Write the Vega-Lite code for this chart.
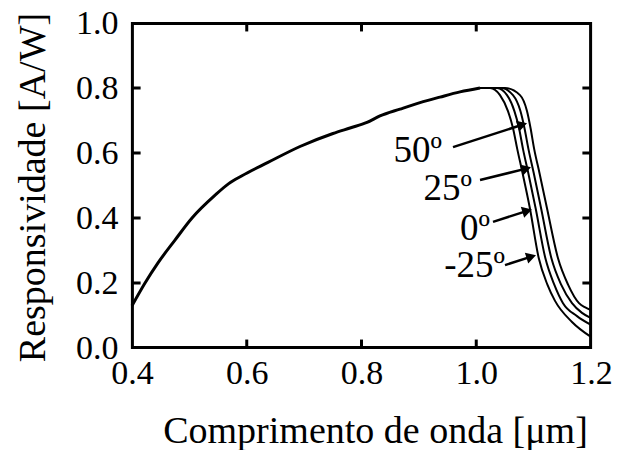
{
  "$schema": "https://vega.github.io/schema/vega-lite/v6.json",
  "width": 459,
  "height": 325,
  "autosize": "none",
  "padding": {"left": 132, "top": 23, "right": 27, "bottom": 102},
  "background": "white",
  "config": {
    "view": {"stroke": null},
    "axis": {
      "grid": false,
      "domain": false,
      "ticks": false,
      "labelFont": "Liberation Serif",
      "labelFontSize": 34,
      "labelColor": "black",
      "titleFont": "Liberation Serif",
      "titleFontSize": 38,
      "titleFontWeight": "normal",
      "titleColor": "black"
    }
  },
  "datasets": {
    "curves": [
      {"s": "main", "x": 0.400, "r": 0.130},
      {"s": "main", "x": 0.4227, "r": 0.200},
      {"s": "main", "x": 0.4453, "r": 0.262},
      {"s": "main", "x": 0.4749, "r": 0.332},
      {"s": "main", "x": 0.5046, "r": 0.400},
      {"s": "main", "x": 0.5447, "r": 0.470},
      {"s": "main", "x": 0.5680, "r": 0.505},
      {"s": "main", "x": 0.5917, "r": 0.530},
      {"s": "main", "x": 0.6370, "r": 0.571},
      {"s": "main", "x": 0.6928, "r": 0.620},
      {"s": "main", "x": 0.7503, "r": 0.660},
      {"s": "main", "x": 0.7800, "r": 0.677},
      {"s": "main", "x": 0.8096, "r": 0.694},
      {"s": "main", "x": 0.8322, "r": 0.714},
      {"s": "main", "x": 0.8671, "r": 0.735},
      {"s": "main", "x": 0.9020, "r": 0.755},
      {"s": "main", "x": 0.9368, "r": 0.772},
      {"s": "main", "x": 0.9717, "r": 0.788},
      {"s": "main", "x": 1.0066, "r": 0.800},
      {"s": "50", "x": 1.0066, "r": 0.800},
      {"s": "50", "x": 1.0501, "r": 0.800},
      {"s": "50", "x": 1.0762, "r": 0.778},
      {"s": "50", "x": 1.0884, "r": 0.729},
      {"s": "50", "x": 1.0946, "r": 0.677},
      {"s": "50", "x": 1.1010, "r": 0.612},
      {"s": "50", "x": 1.1100, "r": 0.540},
      {"s": "50", "x": 1.1233, "r": 0.430},
      {"s": "50", "x": 1.1425, "r": 0.276},
      {"s": "50", "x": 1.1600, "r": 0.195},
      {"s": "50", "x": 1.1791, "r": 0.138},
      {"s": "50", "x": 1.1900, "r": 0.125},
      {"s": "50", "x": 1.2000, "r": 0.117},
      {"s": "25", "x": 1.0066, "r": 0.800},
      {"s": "25", "x": 1.0431, "r": 0.800},
      {"s": "25", "x": 1.0640, "r": 0.778},
      {"s": "25", "x": 1.0770, "r": 0.729},
      {"s": "25", "x": 1.0840, "r": 0.677},
      {"s": "25", "x": 1.0910, "r": 0.612},
      {"s": "25", "x": 1.1000, "r": 0.540},
      {"s": "25", "x": 1.1130, "r": 0.430},
      {"s": "25", "x": 1.1310, "r": 0.276},
      {"s": "25", "x": 1.1480, "r": 0.195},
      {"s": "25", "x": 1.1669, "r": 0.138},
      {"s": "25", "x": 1.1843, "r": 0.108},
      {"s": "25", "x": 1.2000, "r": 0.092},
      {"s": "0", "x": 1.0066, "r": 0.800},
      {"s": "0", "x": 1.0362, "r": 0.800},
      {"s": "0", "x": 1.0536, "r": 0.778},
      {"s": "0", "x": 1.0665, "r": 0.729},
      {"s": "0", "x": 1.0745, "r": 0.677},
      {"s": "0", "x": 1.0815, "r": 0.612},
      {"s": "0", "x": 1.0905, "r": 0.540},
      {"s": "0", "x": 1.1035, "r": 0.430},
      {"s": "0", "x": 1.1205, "r": 0.276},
      {"s": "0", "x": 1.1360, "r": 0.195},
      {"s": "0", "x": 1.1512, "r": 0.138},
      {"s": "0", "x": 1.1756, "r": 0.098},
      {"s": "0", "x": 1.2000, "r": 0.071},
      {"s": "-25", "x": 1.0066, "r": 0.800},
      {"s": "-25", "x": 1.0240, "r": 0.800},
      {"s": "-25", "x": 1.0414, "r": 0.778},
      {"s": "-25", "x": 1.0553, "r": 0.729},
      {"s": "-25", "x": 1.0640, "r": 0.677},
      {"s": "-25", "x": 1.0715, "r": 0.612},
      {"s": "-25", "x": 1.0805, "r": 0.540},
      {"s": "-25", "x": 1.0935, "r": 0.430},
      {"s": "-25", "x": 1.1090, "r": 0.276},
      {"s": "-25", "x": 1.1240, "r": 0.195},
      {"s": "-25", "x": 1.1373, "r": 0.145},
      {"s": "-25", "x": 1.1669, "r": 0.080},
      {"s": "-25", "x": 1.2000, "r": 0.034}
    ],
    "notes": [
      {"label": "50º", "tx": 0.9403, "ty": 0.572, "x": 0.9595, "y": 0.618, "hx": 1.0803, "hy": 0.687},
      {"label": "25º", "tx": 0.9926, "ty": 0.455, "x": 1.0066, "y": 0.517, "hx": 1.0871, "hy": 0.552},
      {"label": "0º", "tx": 1.0240, "ty": 0.332, "x": 1.0292, "y": 0.388, "hx": 1.0888, "hy": 0.422},
      {"label": "-25º", "tx": 1.0501, "ty": 0.218, "x": 1.0501, "y": 0.255, "hx": 1.0959, "hy": 0.281}
    ],
    "box": [
      {"i": 0, "bx": 0.4007, "by": 0.0015},
      {"i": 1, "bx": 1.1993, "by": 0.0015},
      {"i": 2, "bx": 1.1993, "by": 0.9985},
      {"i": 3, "bx": 0.4007, "by": 0.9985},
      {"i": 4, "bx": 0.4007, "by": 0.0015}
    ],
    "marks": [
      {"t": "b6", "bx": 0.6, "by": 0.0015}, {"t": "b6", "bx": 0.6, "by": 0.026},
      {"t": "b8", "bx": 0.8, "by": 0.0015}, {"t": "b8", "bx": 0.8, "by": 0.026},
      {"t": "b10", "bx": 1.0, "by": 0.0015}, {"t": "b10", "bx": 1.0, "by": 0.026},
      {"t": "t6", "bx": 0.6, "by": 0.9985}, {"t": "t6", "bx": 0.6, "by": 0.974},
      {"t": "t8", "bx": 0.8, "by": 0.9985}, {"t": "t8", "bx": 0.8, "by": 0.974},
      {"t": "t10", "bx": 1.0, "by": 0.9985}, {"t": "t10", "bx": 1.0, "by": 0.974},
      {"t": "l2", "bx": 0.4007, "by": 0.2}, {"t": "l2", "bx": 0.415, "by": 0.2},
      {"t": "l4", "bx": 0.4007, "by": 0.4}, {"t": "l4", "bx": 0.415, "by": 0.4},
      {"t": "l6", "bx": 0.4007, "by": 0.6}, {"t": "l6", "bx": 0.415, "by": 0.6},
      {"t": "l8", "bx": 0.4007, "by": 0.8}, {"t": "l8", "bx": 0.415, "by": 0.8},
      {"t": "r2", "bx": 1.185, "by": 0.2}, {"t": "r2", "bx": 1.1993, "by": 0.2},
      {"t": "r4", "bx": 1.185, "by": 0.4}, {"t": "r4", "bx": 1.1993, "by": 0.4},
      {"t": "r6", "bx": 1.185, "by": 0.6}, {"t": "r6", "bx": 1.1993, "by": 0.6},
      {"t": "r8", "bx": 1.185, "by": 0.8}, {"t": "r8", "bx": 1.1993, "by": 0.8}
    ]
  },
  "layer": [
    {
      "data": {"name": "curves"},
      "transform": [{"filter": "datum.s === 'main'"}],
      "mark": {"type": "line", "interpolate": "monotone", "color": "black", "strokeWidth": 3},
      "encoding": {
        "x": {"field": "x", "type": "quantitative", "scale": {"domain": [0.4, 1.2], "nice": false, "zero": false},
              "axis": {"orient": "bottom", "values": [0.4, 0.6, 0.8, 1.0, 1.2], "format": ".1f",
                       "labelPadding": 8, "title": "Comprimento de onda [μm]", "titleX": 243, "titleY": 94, "titleBaseline": "alphabetic", "labelFlush": false}},
        "y": {"field": "r", "type": "quantitative", "scale": {"domain": [0, 1], "nice": false},
              "axis": {"orient": "left", "values": [0, 0.2, 0.4, 0.6, 0.8, 1.0], "format": ".1f",
                       "labelPadding": 14, "title": "Responsividade [A/W]", "titleX": -88, "titleY": 164, "titleAngle": -90, "titleBaseline": "alphabetic", "titleAlign": "center", "labelFlush": false}}
      }
    },
    {
      "data": {"name": "curves"},
      "transform": [{"filter": "datum.s !== 'main'"}],
      "mark": {"type": "line", "interpolate": "monotone", "color": "black", "strokeWidth": 2},
      "encoding": {
        "detail": {"field": "s", "type": "nominal"},
        "x": {"field": "x", "type": "quantitative"},
        "y": {"field": "r", "type": "quantitative"}
      }
    },
    {
      "data": {"name": "box"},
      "mark": {"type": "line", "color": "black", "strokeWidth": 3, "strokeCap": "square", "strokeJoin": "miter"},
      "encoding": {
        "x": {"field": "bx", "type": "quantitative"},
        "y": {"field": "by", "type": "quantitative"},
        "order": {"field": "i", "type": "quantitative"}
      }
    },
    {
      "data": {"name": "marks"},
      "mark": {"type": "line", "color": "black", "strokeWidth": 3},
      "encoding": {
        "detail": {"field": "t", "type": "nominal"},
        "x": {"field": "bx", "type": "quantitative"},
        "y": {"field": "by", "type": "quantitative"}
      }
    },
    {
      "data": {"name": "notes"},
      "mark": {"type": "rule", "color": "black", "strokeWidth": 2.5},
      "encoding": {
        "x": {"field": "x", "type": "quantitative"},
        "y": {"field": "y", "type": "quantitative"},
        "x2": {"field": "hx"},
        "y2": {"field": "hy"}
      }
    },
    {
      "data": {"name": "notes"},
      "mark": {"type": "point", "shape": "triangle-right", "filled": true, "color": "black", "opacity": 1, "size": 130, "angle": -17},
      "encoding": {
        "x": {"field": "hx", "type": "quantitative"},
        "y": {"field": "hy", "type": "quantitative"}
      }
    },
    {
      "data": {"name": "notes"},
      "mark": {"type": "text", "align": "right", "baseline": "alphabetic", "font": "Liberation Serif", "fontSize": 37, "color": "black"},
      "encoding": {
        "x": {"field": "tx", "type": "quantitative"},
        "y": {"field": "ty", "type": "quantitative"},
        "text": {"field": "label"}
      }
    }
  ]
}
